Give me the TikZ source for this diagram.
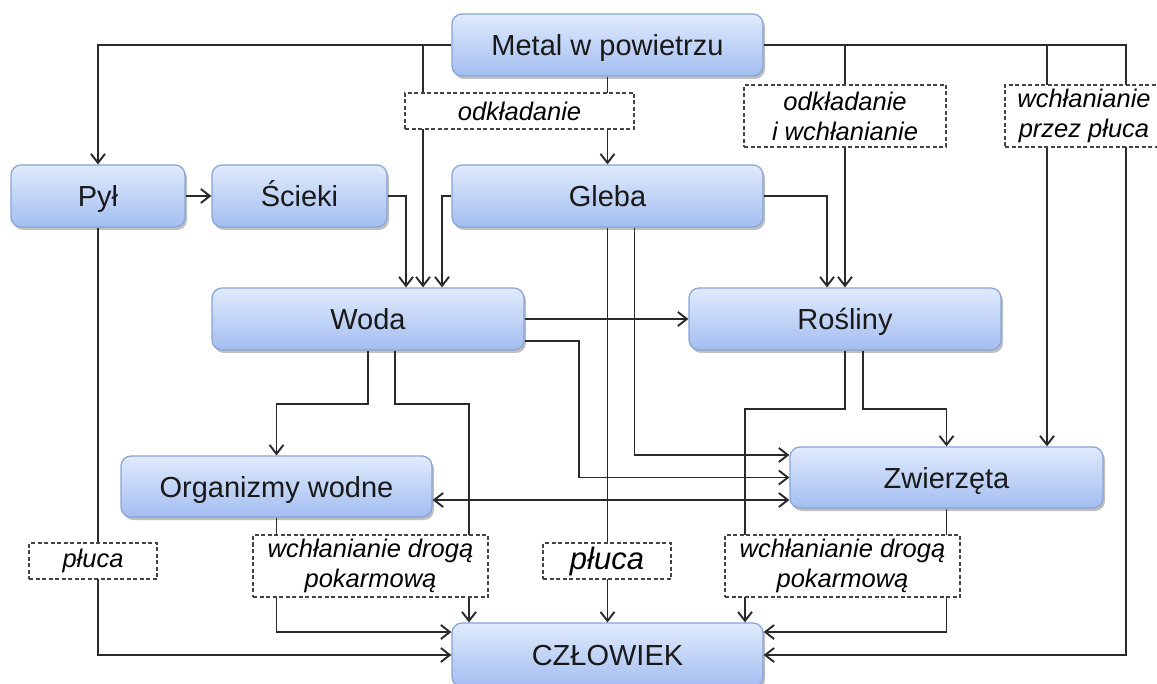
\documentclass[tikz,border=0pt]{standalone}
\usepackage{fontspec}
\setmainfont{Liberation Sans}
\usetikzlibrary{arrows.meta,shadows,calc}
\definecolor{boxtop}{HTML}{E0EAFC}
\definecolor{boxbot}{HTML}{A3BEF1}
\definecolor{boxline}{HTML}{88A4D4}
\definecolor{ln}{HTML}{2A2A2A}
\definecolor{dl}{HTML}{444444}
\begin{document}
\begin{tikzpicture}[x=1pt,y=-1pt,
  box/.style={rectangle, rounded corners=10pt, draw=boxline, line width=1.2pt,
    top color=boxtop, bottom color=boxbot, minimum height=62pt, inner sep=0pt,
    text height=21pt, text depth=0pt,
    font=\fontsize{29}{32}\selectfont, text=black!90,
    drop shadow={shadow xshift=2pt, shadow yshift=-3pt, opacity=0.25, fill=black}},
  lbl/.style={rectangle, draw=dl, dash pattern=on 4pt off 2.5pt, line width=1.1pt,
    fill=white, inner sep=0pt, font=\fontsize{25.5}{30}\selectfont\itshape, align=center},
  conn/.style={draw=ln, line width=1.9pt},
  tip/.tip={Straight Barb[length=9pt,width=14pt]},
  arr/.style={conn, -tip},
  darr/.style={conn, tip-tip}
]
\useasboundingbox (0,0) rectangle (1157,684);
\fill[white] (0,0) rectangle (1157,684);

% main boxes
\node[box, minimum width=311pt] (metal) at (607.5,45) {Metal w powietrzu};
\node[box, minimum width=174pt] (pyl) at (98,196) {Pył};
\node[box, minimum width=175pt] (scieki) at (299.5,196) {Ścieki};
\node[box, minimum width=311pt] (gleba) at (607.5,196) {Gleba};
\node[box, minimum width=312pt] (woda) at (368,319) {Woda};
\node[box, minimum width=312pt] (rosliny) at (845,319) {Rośliny};
\node[box, minimum width=311pt, minimum height=61pt] (org) at (276.5,486.5) {Organizmy wodne};
\node[box, minimum width=313pt, minimum height=61pt] (zw) at (946.5,477.5) {Zwierzęta};
\node[box, minimum width=311pt, minimum height=64pt] (czl) at (607.5,655) {CZŁOWIEK};

% helper coordinates
\coordinate (wA) at ($(woda.north)+(55,0)$);
\coordinate (wS) at ($(woda.north)+(38,0)$);
\coordinate (wG) at ($(woda.north)+(74,0)$);
\coordinate (rG) at ($(rosliny.north)+(-18,0)$);
\coordinate (zA) at ($(zw.north)+(100.5,0)$);
\coordinate (rc) at ($(metal.east)+(362,0)$);
\coordinate (gB) at ($(gleba.south)+(27,0)$);
\coordinate (zT) at ($(zw.west)+(0,-22.5)$);
\coordinate (zB) at ($(zw.west)+(0,22.5)$);
\coordinate (wR) at ($(woda.east)+(0,22)$);
\coordinate (wB) at ($(woda.south)+(27,0)$);
\coordinate (cN1) at ($(czl.north)+(-138.5,0)$);
\coordinate (cN2) at ($(czl.north)+(137.5,0)$);
\coordinate (cW) at ($(czl.west)+(0,-23)$);
\coordinate (cE) at ($(czl.east)+(0,-23)$);
\coordinate (rB) at ($(rosliny.south)+(18,0)$);

% connectors
\draw[arr] (metal.west) -| (pyl.north);
\draw[arr] (wA |- metal.west) -- (wA);
\draw[arr] (metal.south) -- (gleba.north);
\draw[arr] (metal.east) -- (rc) |- (czl.east);
\draw[arr] (rosliny.north |- metal.east) -- (rosliny.north);
\draw[arr] (zA |- metal.east) -- (zA);
\draw[arr] (pyl.east) -- (scieki.west);
\draw[arr] (scieki.east) -| (wS);
\draw[arr] (gleba.west) -| (wG);
\draw[arr] (gleba.east) -| (rG);
\draw[arr] (gleba.south) -- (czl.north);
\draw[arr] (gB) |- (zT);
\draw[arr] (woda.east) -- (rosliny.west);
\draw[arr] (wR) -- ++(54,0) |- (zw.west);
\draw[darr] (zB -| org.east) -- (zB);
\draw[arr] (woda.south) -- ++(0,53) -| (org.north);
\draw[arr] (wB) -- ++(0,53) -| (cN1);
\draw[arr] (org.south) |- (cW);
\draw[arr] (pyl.south) |- (czl.west);
\draw[arr] (rosliny.south) -- ++(0,58) -| (cN2);
\draw[arr] (rB) -- ++(0,58) -| (zw.north);
\draw[arr] (zw.south) |- (cE);

% dashed labels
\node[lbl, minimum width=229pt, minimum height=36pt] (l1) at (519.5,111) {odkładanie};
\node[lbl, minimum width=202pt, minimum height=62pt] (l2) at (845,116) {odkładanie\\i wchłanianie};
\node[lbl, minimum width=158pt, minimum height=62pt] (l3) at (1084,116) {wchłanianie\\przez płuca};
\node[lbl, minimum width=128pt, minimum height=36pt] (l4) at (93,561) {płuca};
\node[lbl, minimum width=235pt, minimum height=62pt] (l5) at (370.5,566) {wchłanianie drogą\\pokarmową};
\node[lbl, minimum width=128pt, minimum height=36pt, font=\fontsize{31}{34}\selectfont\itshape] (l6) at (607,561) {płuca};
\node[lbl, minimum width=235pt, minimum height=62pt] (l7) at (842.5,566) {wchłanianie drogą\\pokarmową};
\end{tikzpicture}
\end{document}
